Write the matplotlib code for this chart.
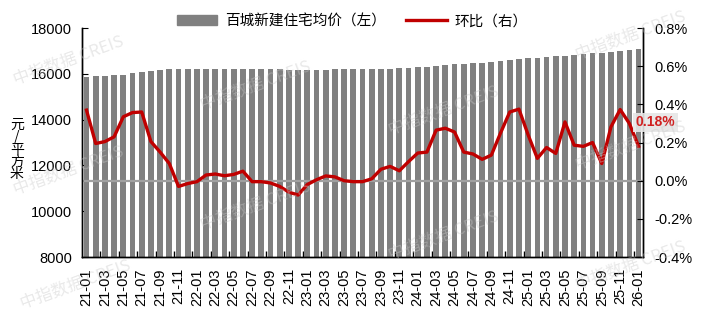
import matplotlib
matplotlib.use("Agg")
import matplotlib.pyplot as plt
from matplotlib.ticker import FuncFormatter, FixedLocator
from matplotlib.patches import Patch
from matplotlib.lines import Line2D

plt.rcParams['font.family'] = ['Liberation Sans', 'Noto Sans CJK SC', 'DejaVu Sans']

# months 21-01 .. 26-01
months = [f"{y:02d}-{m:02d}" for y in range(21, 27) for m in range(1, 13)][:61]

# 百城新建住宅均价 (元/平方米)
price = [15870, 15890, 15910, 15930, 15970, 16020, 16080, 16130, 16170, 16200,
         16200, 16195, 16190, 16195, 16200, 16205, 16205, 16210, 16215, 16210,
         16205, 16200, 16185, 16170, 16160, 16165, 16180, 16190, 16195, 16195,
         16195, 16200, 16210, 16225, 16235, 16255, 16280, 16310, 16350, 16390,
         16420, 16450, 16470, 16490, 16510, 16540, 16590, 16650, 16690, 16710,
         16740, 16760, 16800, 16830, 16860, 16900, 16920, 16960, 17010, 17050,
         17080]

# 环比 (%)
mom = [0.37, 0.195, 0.205, 0.23, 0.335, 0.357, 0.36, 0.205, 0.15, 0.09,
       -0.03, -0.015, -0.005, 0.03, 0.035, 0.026, 0.033, 0.05, -0.005, -0.005,
       -0.012, -0.03, -0.06, -0.075, -0.02, 0.005, 0.025, 0.02, 0.0, -0.005,
       -0.005, 0.01, 0.06, 0.075, 0.052, 0.1, 0.145, 0.15, 0.265, 0.275,
       0.255, 0.15, 0.14, 0.112, 0.134, 0.25, 0.36, 0.375, 0.24, 0.117,
       0.174, 0.143, 0.308, 0.186, 0.18, 0.2, 0.09, 0.282, 0.373, 0.3,
       0.18]

bar_color = '#808080'
line_color = '#C00000'
fs = 10.5
cjk = ['Noto Sans CJK SC', 'DejaVu Sans']

fig = plt.figure(figsize=(7.06, 3.15), dpi=100)
ax = fig.add_axes([0.116, 0.184, 0.795, 0.727])
ax2 = ax.twinx()

x = list(range(len(months)))
ax.bar(x, price, width=0.62, color=bar_color, zorder=2)
ax.set_ylim(8000, 18000)
ax.set_yticks(range(8000, 18001, 2000))
ax.set_xlim(-0.5, len(months) - 0.5)

ax2.axhline(0, color='#a0a0a0', lw=1.6, zorder=1)
ax2.plot(x, mom, color=line_color, lw=2.4, solid_joinstyle='round', zorder=3)
ax2.set_ylim(-0.4, 0.8)
ax2.set_yticks([-0.4, -0.2, 0.0, 0.2, 0.4, 0.6, 0.8])
ax2.yaxis.set_major_formatter(FuncFormatter(lambda v, p: f"{v:.1f}%"))

# x labels every other month, ticks on category boundaries
ax.set_xticks(x[::2])
ax.set_xticklabels(months[::2], rotation=90, fontsize=fs)
ax.tick_params(axis='x', which='major', length=0, pad=8)
ax.xaxis.set_minor_locator(FixedLocator([i + 1.5 for i in range(0, len(months) - 2, 2)]))
ax.tick_params(axis='x', which='minor', direction='in', length=4, width=1)
ax.tick_params(axis='y', direction='in', length=4, labelsize=fs, pad=7)
ax2.tick_params(axis='y', direction='in', length=4, labelsize=fs, pad=8)

for a in (ax, ax2):
    a.spines['top'].set_visible(False)
    for s in ('left', 'right', 'bottom'):
        a.spines[s].set_color('black')
        a.spines[s].set_linewidth(1.0)
ax2.set_zorder(ax.get_zorder() + 1)
ax2.patch.set_visible(False)

# last value label
ax2.annotate(f"{mom[-1]:.2f}%", xy=(x[-1], mom[-1]), xytext=(17, 24),
             textcoords='offset pixels', ha='center', va='center',
             color='#d02020', fontsize=10, fontweight='bold',
             bbox=dict(boxstyle='square,pad=0.2', fc='#e6e6e6', ec='none', alpha=0.9),
             annotation_clip=False, zorder=5)

# y axis unit, stacked characters
fig.text(0.024, 0.525, "元\n/\n平\n方\n米", ha='center', va='center',
         fontsize=10, linespacing=0.85, family=cjk)

handles = [Patch(color=bar_color), Line2D([0], [0], color=line_color, lw=2.4)]
labels = ["百城新建住宅均价（左）", "环比（右）"]
ax.legend(handles, labels, loc='center', bbox_to_anchor=(0.481, 1.03), ncol=2,
          frameon=False, handlelength=2.8, handleheight=0.6,
          columnspacing=1.4, handletextpad=0.5,
          prop={'family': cjk, 'size': 10.5})

# watermark
wm = [(68, 60), (255, 85), (443, 110), (630, 35), (68, 170), (255, 205),
      (443, 235), (630, 145), (75, 284), (630, 265)]
for px, py in wm:
    fig.text(px / 706, 1 - py / 315, "中指数据 CREIS", ha='center', va='center',
             rotation=20, fontsize=12, color='#c8c8c8', alpha=0.4,
             family=cjk, zorder=10)

fig.savefig('out.png', dpi=100)
